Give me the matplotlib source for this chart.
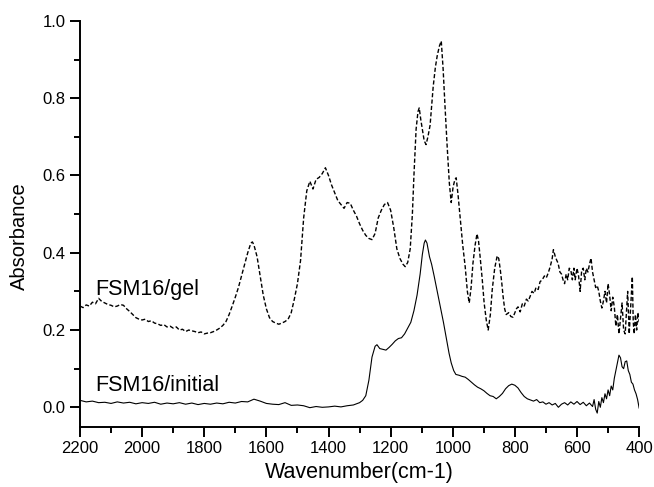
import matplotlib
matplotlib.use("Agg")
import matplotlib.pyplot as plt
from matplotlib.ticker import MultipleLocator

plt.rcParams['font.family'] = ['Liberation Sans', 'DejaVu Sans']

# FSM16/initial (solid line)
init_wn = [2200, 2180, 2160, 2140, 2120, 2100, 2080, 2060, 2040, 2020,
           2000, 1980, 1960, 1940, 1920, 1900, 1880, 1860, 1840, 1820,
           1800, 1780, 1760, 1740, 1720, 1700, 1680, 1660, 1640, 1620,
           1600, 1580, 1560, 1540, 1520, 1500, 1480, 1460, 1440, 1420,
           1400, 1380, 1360, 1340, 1320, 1300, 1290, 1280, 1270, 1260,
           1250, 1244, 1235, 1225, 1215, 1205, 1195, 1185, 1175, 1165,
           1155, 1145, 1135, 1125, 1115, 1105, 1098, 1092, 1088, 1083,
           1075, 1068, 1060, 1050, 1040, 1030, 1020, 1012, 1005, 997,
           990, 980, 970, 960, 950, 940, 930, 920, 910, 900,
           890, 880, 870, 860, 850, 840, 830, 820, 810, 800,
           790, 780, 770, 760, 750, 740, 730, 720, 710, 700,
           690, 680, 670, 660, 650, 640, 630, 620, 610, 600,
           590, 580, 570, 560, 550, 545, 540, 535, 530, 525,
           520, 515, 510, 505, 500, 495, 490, 485, 480, 475,
           470, 465, 460, 455, 450, 445, 440, 435, 430, 425,
           420, 415, 410, 405, 400]
init_abs = [0.018, 0.014, 0.016, 0.012, 0.013, 0.010, 0.014, 0.011, 0.013, 0.009,
            0.012, 0.010, 0.013, 0.008, 0.011, 0.009, 0.012, 0.008, 0.011, 0.007,
            0.010, 0.008, 0.011, 0.009, 0.013, 0.011, 0.015, 0.014, 0.021, 0.016,
            0.010, 0.008, 0.007, 0.012, 0.005, 0.006, 0.004, -0.001, 0.002, 0.000,
            0.001, 0.003, 0.001, 0.004, 0.006, 0.012, 0.018, 0.030, 0.070, 0.130,
            0.158, 0.162, 0.152, 0.150, 0.148, 0.155, 0.163, 0.172, 0.178, 0.180,
            0.190, 0.205, 0.220, 0.250, 0.290, 0.345, 0.395, 0.425, 0.433, 0.425,
            0.390, 0.370, 0.340, 0.300, 0.260, 0.220, 0.175, 0.140, 0.115, 0.095,
            0.085, 0.083, 0.080, 0.078, 0.072, 0.065, 0.058, 0.052, 0.048, 0.043,
            0.036, 0.030, 0.028, 0.022, 0.028, 0.036, 0.048, 0.056, 0.060, 0.057,
            0.050, 0.038, 0.028, 0.022, 0.019, 0.016, 0.020, 0.012, 0.014, 0.008,
            0.012, 0.006, 0.010, 0.000, 0.008, 0.012, 0.006, 0.014, 0.008, 0.015,
            0.007, 0.013, 0.004, 0.011, 0.002, 0.020, -0.005, -0.015, 0.015, 0.000,
            0.025, 0.012, 0.035, 0.022, 0.045, 0.030, 0.055, 0.045, 0.075, 0.095,
            0.115, 0.135, 0.128, 0.105, 0.100, 0.118, 0.120, 0.095, 0.085, 0.065,
            0.060, 0.045, 0.035, 0.020, -0.002]

# FSM16/gel (dashed line)
gel_wn = [2200, 2190, 2180, 2170, 2160, 2150, 2140, 2130, 2120, 2110,
          2100, 2090, 2080, 2070, 2060, 2050, 2040, 2030, 2020, 2010,
          2000, 1990, 1980, 1970, 1960, 1950, 1940, 1930, 1920, 1910,
          1900, 1890, 1880, 1870, 1860, 1850, 1840, 1830, 1820, 1810,
          1800, 1790, 1780, 1770, 1760, 1750, 1740, 1730, 1720, 1710,
          1700, 1690, 1680, 1670, 1660, 1650, 1645, 1640, 1630, 1620,
          1610, 1600, 1590, 1580, 1570, 1560, 1550, 1540, 1530, 1520,
          1510, 1500, 1490, 1480, 1470, 1460, 1450, 1440, 1430, 1420,
          1410, 1400, 1390, 1380, 1370, 1360, 1350, 1340, 1330, 1320,
          1310, 1300, 1290, 1280, 1270, 1260, 1250, 1240, 1230, 1220,
          1210, 1200, 1190, 1180, 1170, 1160, 1153, 1145, 1137, 1130,
          1125, 1118, 1112, 1108, 1103, 1098, 1092, 1086, 1080, 1073,
          1068, 1063, 1056, 1050, 1043, 1037, 1031, 1025, 1018, 1011,
          1005, 999, 993, 989, 983, 976, 968, 960, 953, 947,
          941, 935, 928, 922, 917, 912, 905, 899, 892, 886,
          879, 873, 865, 857, 852, 847, 842, 838, 833, 828,
          820, 813, 806, 800, 795, 790, 783, 776, 770, 763,
          757, 751, 745, 738, 732, 725, 719, 712, 705, 699,
          693, 686, 680, 676, 670, 665, 661, 655, 650, 645,
          640, 635, 630, 625, 620, 615, 610, 606, 600, 595,
          590, 585, 580, 575, 570, 565, 560, 555, 550, 545,
          540, 535, 530, 525, 520, 515, 510, 505, 500, 495,
          490, 485, 480, 475, 470, 465, 460, 455, 450, 445,
          440, 437, 432, 428, 424, 422, 419, 416, 412, 408,
          404, 400]
gel_abs = [0.262, 0.258, 0.265, 0.262, 0.272, 0.268, 0.282, 0.274, 0.270, 0.266,
           0.264, 0.260, 0.262, 0.266, 0.264, 0.255, 0.248, 0.240, 0.232, 0.228,
           0.226, 0.228, 0.222, 0.224, 0.218, 0.216, 0.212, 0.214, 0.208, 0.210,
           0.205, 0.208, 0.200, 0.202, 0.196, 0.200, 0.198, 0.196, 0.193, 0.195,
           0.190, 0.192, 0.193, 0.196, 0.200, 0.205, 0.212, 0.222, 0.240, 0.262,
           0.285, 0.310, 0.340, 0.370, 0.400, 0.425, 0.428, 0.420, 0.390, 0.340,
           0.290, 0.255, 0.232, 0.222, 0.218, 0.215, 0.218, 0.222, 0.228, 0.245,
           0.280, 0.320, 0.380, 0.490, 0.560, 0.585, 0.565, 0.590, 0.595, 0.605,
           0.620, 0.600, 0.575, 0.555, 0.535, 0.525, 0.515, 0.530, 0.528, 0.510,
           0.495, 0.475, 0.458, 0.445, 0.437, 0.434, 0.450, 0.490, 0.510, 0.525,
           0.530, 0.510, 0.465, 0.410, 0.385, 0.370, 0.364, 0.375, 0.410, 0.500,
           0.600, 0.720, 0.765, 0.775, 0.745, 0.720, 0.690, 0.680, 0.700, 0.730,
           0.780, 0.830, 0.880, 0.910, 0.935, 0.948, 0.875, 0.780, 0.675, 0.580,
           0.530, 0.570, 0.590, 0.594, 0.550, 0.490, 0.420, 0.364, 0.300, 0.270,
           0.310, 0.373, 0.420, 0.449, 0.430, 0.390, 0.330, 0.270, 0.225, 0.200,
           0.240, 0.304, 0.360, 0.392, 0.385, 0.356, 0.320, 0.287, 0.255, 0.240,
           0.245, 0.235, 0.233, 0.245, 0.255, 0.260, 0.247, 0.268, 0.262, 0.280,
           0.275, 0.287, 0.300, 0.295, 0.310, 0.305, 0.325, 0.330, 0.340, 0.335,
           0.347, 0.365, 0.385, 0.408, 0.390, 0.380, 0.373, 0.350, 0.345, 0.330,
           0.320, 0.345, 0.330, 0.360, 0.355, 0.330, 0.360, 0.330, 0.360, 0.340,
           0.300, 0.355, 0.360, 0.330, 0.360, 0.350, 0.370, 0.386, 0.350, 0.330,
           0.310, 0.315, 0.300, 0.275, 0.257, 0.275, 0.300, 0.270, 0.320, 0.290,
           0.250, 0.285, 0.260, 0.210, 0.240, 0.190, 0.230, 0.270, 0.200, 0.190,
           0.260, 0.300, 0.190, 0.250, 0.310, 0.338, 0.220, 0.190, 0.240, 0.200,
           0.245, 0.220]

fig = plt.figure(figsize=(6.54, 4.87), dpi=100)
ax = fig.add_axes([0.1223, 0.124, 0.855, 0.833])

ax.plot(gel_wn, gel_abs, color='black', lw=1.0, linestyle=(0, (3, 1.6)))
ax.plot(init_wn, init_abs, color='black', lw=0.8)

ax.text(2152, 0.278, 'FSM16/gel', fontsize=15.5, va='bottom', ha='left')
ax.text(2152, 0.030, 'FSM16/initial', fontsize=15.5, va='bottom', ha='left')

ax.set_xlim(2200, 400)
ax.set_ylim(-0.05, 1.0)
ax.xaxis.set_major_locator(MultipleLocator(200))
ax.xaxis.set_minor_locator(MultipleLocator(100))
ax.yaxis.set_major_locator(MultipleLocator(0.2))
ax.yaxis.set_minor_locator(MultipleLocator(0.1))
ax.yaxis.set_major_formatter(matplotlib.ticker.FormatStrFormatter('%.1f'))

for side in ['top', 'right']:
    ax.spines[side].set_visible(False)
for side in ['left', 'bottom']:
    ax.spines[side].set_linewidth(1.4)

ax.tick_params(which='major', direction='out', length=7, width=1.4, labelsize=12)
ax.tick_params(which='minor', direction='out', length=4, width=1.4)

ax.set_xlabel('Wavenumber(cm-1)', fontsize=15.5, labelpad=4)
ax.set_ylabel('Absorbance', fontsize=14.5)
ax.yaxis.set_label_coords(-0.092, 0.469)

fig.savefig('out.png', dpi=100)
